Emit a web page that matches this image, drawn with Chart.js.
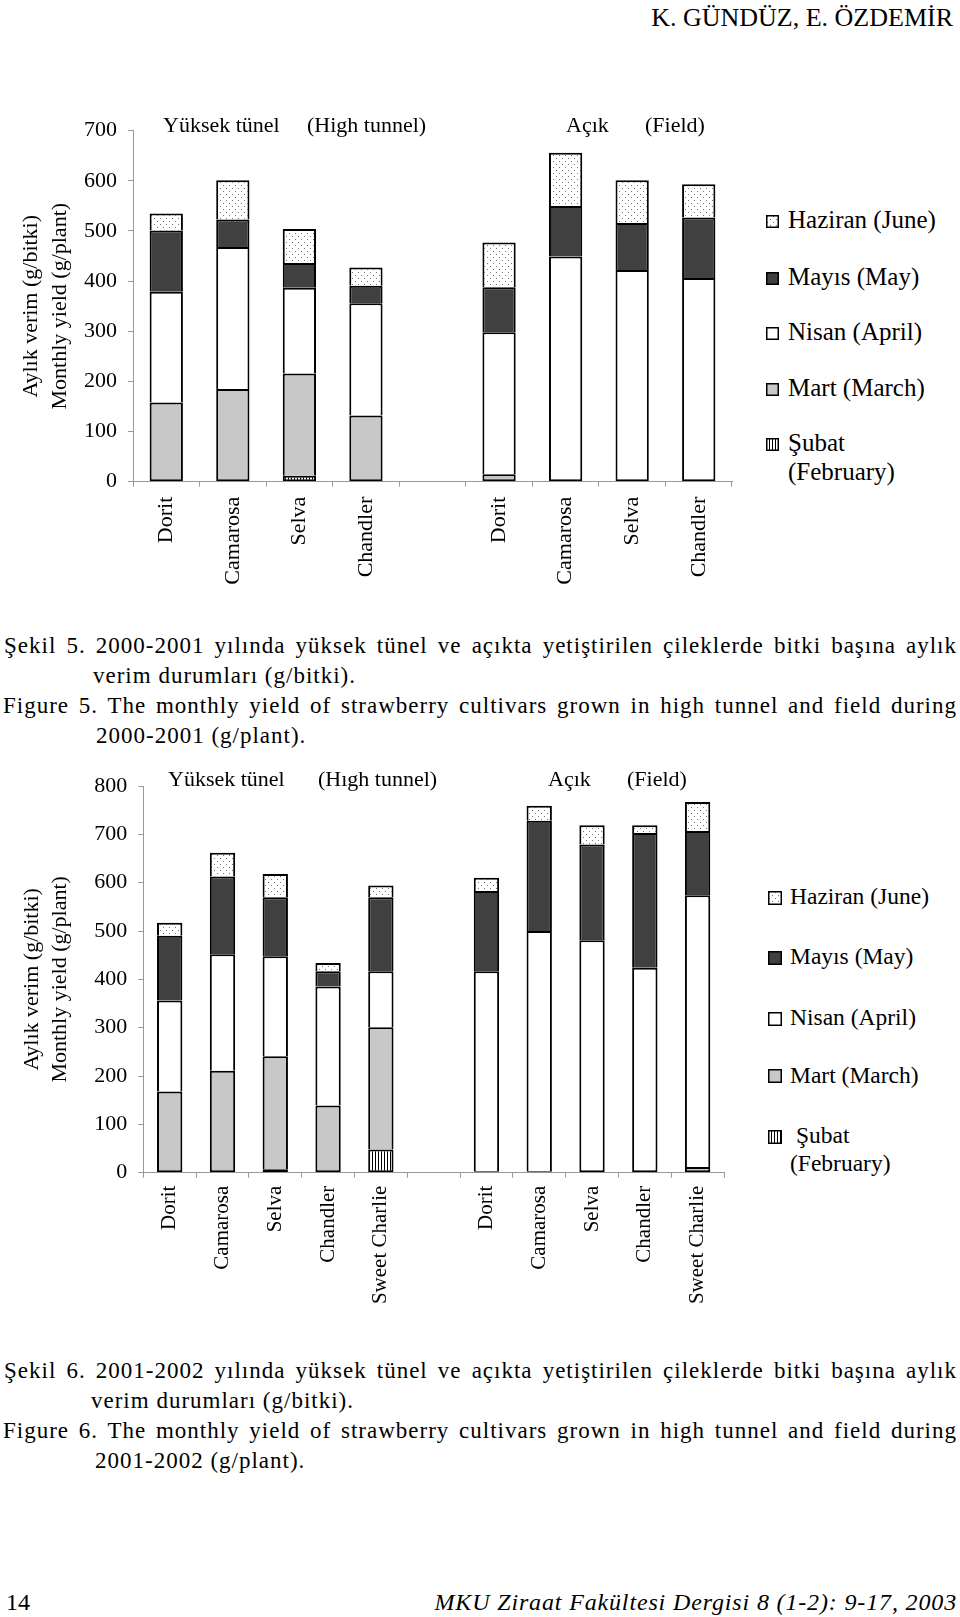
<!DOCTYPE html>
<html>
<head>
<meta charset="utf-8">
<script src="https://cdn.jsdelivr.net/npm/chart.js@4.4.1/dist/chart.umd.min.js"></script>
<style>
  body { margin: 0; background: #fff; }
  #page { position: relative; width: 960px; height: 1617px; font-family: 'Liberation Serif', 'Times New Roman', serif; color: #000; overflow: hidden; }
  .t { position: absolute; white-space: nowrap; }
  .g { font-size: 22px; line-height: 22px; }
  .cap { position: absolute; font-size: 23px; line-height: 30px; letter-spacing: 1px; }
  .cap div { white-space: nowrap; }
  .cap .j { text-align: justify; text-align-last: justify; }
  canvas { position: absolute; left: 0; }
  .sw { position: absolute; }
</style>
</head>
<body>
<div id="page">
  <div class="t" style="right:7px;top:5px;font-size:26px;line-height:26px;">K. GÜNDÜZ, E. ÖZDEMİR</div>

  <canvas id="chart1" width="760" height="500" style="top:100px"></canvas>
  <div class="t g" style="left:163px;top:113.6px">Yüksek tünel</div>
  <div class="t g" style="left:307px;top:113.6px">(High tunnel)</div>
  <div class="t g" style="left:566px;top:113.6px">Açık</div>
  <div class="t g" style="left:645px;top:113.6px">(Field)</div>
  <div id="legend1"></div>

  <div class="cap" style="left:0;top:630.5px;width:960px">
    <div class="j" style="margin-left:4px;width:953px">Şekil 5. 2000-2001 yılında yüksek tünel ve açıkta yetiştirilen çileklerde bitki başına aylık</div>
    <div style="margin-left:93px">verim durumları (g/bitki).</div>
    <div class="j" style="margin-left:3px;width:954px">Figure 5. The monthly yield of strawberry cultivars grown in high tunnel and field during</div>
    <div style="margin-left:96px">2000-2001 (g/plant).</div>
  </div>

  <canvas id="chart2" width="760" height="580" style="top:740px"></canvas>
  <div class="t g" style="left:168px;top:767.6px">Yüksek tünel</div>
  <div class="t g" style="left:318px;top:767.6px">(Hıgh tunnel)</div>
  <div class="t g" style="left:548px;top:767.6px">Açık</div>
  <div class="t g" style="left:627px;top:767.6px">(Field)</div>
  <div id="legend2"></div>

  <div class="cap" style="left:0;top:1355.5px;width:960px">
    <div class="j" style="margin-left:4px;width:953px">Şekil 6. 2001-2002 yılında yüksek tünel ve açıkta yetiştirilen çileklerde bitki başına aylık</div>
    <div style="margin-left:91px">verim durumları (g/bitki).</div>
    <div class="j" style="margin-left:3px;width:954px">Figure 6. The monthly yield of strawberry cultivars grown in high tunnel and field during</div>
    <div style="margin-left:95px">2001-2002 (g/plant).</div>
  </div>

  <div class="t" style="left:6px;top:1590px;font-size:24px;line-height:24px;">14</div>
  <div class="t" style="right:3px;top:1590px;font-size:24px;line-height:24px;font-style:italic;letter-spacing:0.85px;">MKU Ziraat Fakültesi Dergisi 8 (1-2): 9-17, 2003</div>
</div>

<script>
// Figure 5 (2000-2001): high tunnel cultivars, gap, field cultivars
const cultivars1 = ['Dorit', 'Camarosa', 'Selva', 'Chandler', '', 'Dorit', 'Camarosa', 'Selva', 'Chandler'];
const subat1   = [0, 0, 12, 0, null, 0, 0, 0, 0];
const mart1    = [158, 185, 204, 132, null, 15, 0, 0, 0];
const nisan1   = [221, 283, 171, 224, null, 283, 449, 422, 406];
const mayis1   = [122, 55, 49, 35, null, 90, 101, 94, 121];
const haziran1 = [34, 78, 68, 36, null, 89, 106, 85, 66];

// Figure 6 (2001-2002)
const cultivars2 = ['Dorit', 'Camarosa', 'Selva', 'Chandler', 'Sweet Charlie', '', 'Dorit', 'Camarosa', 'Selva', 'Chandler', 'Sweet Charlie'];
const subat2   = [0, 0, 7, 0, 48, null, 0, 0, 0, 0, 0];
const mart2    = [168, 211, 234, 139, 253, null, 3, 3, 0, 0, 12];
const nisan2   = [188, 241, 207, 246, 116, null, 414, 497, 481, 424, 562];
const mayis2   = [134, 161, 122, 32, 153, null, 166, 228, 198, 279, 133];
const haziran2 = [27, 49, 48, 17, 24, null, 27, 31, 40, 16, 60];

const monthNames = ['Haziran (June)', 'Mayıs (May)', 'Nisan (April)', 'Mart (March)', 'Şubat'];

const serif = "'Liberation Serif', 'Times New Roman', serif";
const axisGray = '#999';

function dots() {
  const c = document.createElement('canvas');
  c.width = 6; c.height = 6;
  const g = c.getContext('2d');
  g.fillStyle = '#fff'; g.fillRect(0, 0, 6, 6);
  g.fillStyle = '#777';
  g.fillRect(1, 1, 1, 1);
  g.fillRect(4, 4, 1, 1);
  return g.createPattern(c, 'repeat');
}

function stripes() {
  const c = document.createElement('canvas');
  c.width = 3; c.height = 3;
  const g = c.getContext('2d');
  g.fillStyle = '#fff'; g.fillRect(0, 0, 3, 3);
  g.fillStyle = '#000'; g.fillRect(0, 0, 1, 3);
  return g.createPattern(c, 'repeat');
}

const fills = {
  haziran: dots(),
  mayis: '#404040',
  nisan: '#ffffff',
  mart: '#c8c8c8',
  subat: stripes()
};

// the lowest non-empty segment of each bar keeps its bottom edge
function skipBottom(ctx) {
  const sets = ctx.chart.data.datasets;
  for (let k = 0; k < ctx.datasetIndex; k++) {
    if (sets[k].data[ctx.dataIndex] > 0) return 'start';
  }
  return false;
}

function makeDatasets(sub, mar, nis, may, haz) {
  return [
    { label: 'Şubat', data: sub, backgroundColor: fills.subat },
    { label: 'Mart', data: mar, backgroundColor: fills.mart },
    { label: 'Nisan', data: nis, backgroundColor: fills.nisan },
    { label: 'Mayıs', data: may, backgroundColor: fills.mayis },
    { label: 'Haziran', data: haz, backgroundColor: fills.haziran }
  ];
}

function makeChart(id, labels, datasets, o) {
  return new Chart(document.getElementById(id), {
    type: 'bar',
    data: { labels: labels, datasets: datasets },
    options: {
      responsive: false,
      animation: false,
      layout: { padding: { top: o.top, right: o.right, left: 0, bottom: 0 } },
      plugins: { legend: { display: false }, tooltip: { enabled: false } },
      datasets: {
        bar: {
          barPercentage: o.barPct, categoryPercentage: 1,
          borderColor: '#000', borderWidth: 2, borderSkipped: skipBottom
        }
      },
      scales: {
        x: {
          stacked: true,
          afterFit: s => { s.height = o.xHeight; },
          grid: { display: true, drawOnChartArea: false, drawTicks: true, tickLength: 5, color: axisGray, offset: true },
          border: { color: axisGray, width: 1 },
          ticks: {
            color: '#000', autoSkip: false, minRotation: 90, maxRotation: 90, padding: o.xPad,
            font: { family: serif, size: o.xFont }
          }
        },
        y: {
          stacked: true,
          min: 0,
          max: o.yMax,
          afterFit: s => { s.width = o.yWidth; },
          grid: { display: true, drawOnChartArea: false, drawTicks: true, tickLength: 5, color: axisGray },
          border: { color: axisGray, width: 1 },
          ticks: { stepSize: 100, padding: 11, color: '#000', font: { family: serif, size: 22 } },
          title: {
            display: true,
            text: ['Aylık verim (g/bitki)', 'Monthly yield (g/plant)'],
            color: '#000',
            padding: { top: o.titlePad, bottom: 0 },
            font: { family: serif, size: 22, lineHeight: o.titleLine }
          }
        }
      }
    }
  });
}

function swatch(fill, size) {
  const c = document.createElement('canvas');
  c.width = size; c.height = size;
  const g = c.getContext('2d');
  g.fillStyle = fill;
  g.fillRect(0, 0, size, size);
  g.strokeStyle = '#000';
  g.lineWidth = 1.5;
  g.strokeRect(0.75, 0.75, size - 1.5, size - 1.5);
  return c;
}

function makeLegend(id, l) {
  const box = document.getElementById(id);
  const order = [fills.haziran, fills.mayis, fills.nisan, fills.mart, fills.subat];
  order.forEach((f, i) => {
    const base = l.baselines[i];
    const sw = swatch(f, l.box);
    sw.className = 'sw';
    sw.style.left = l.boxX + 'px';
    sw.style.top = (base - l.box) + 'px';
    box.appendChild(sw);
    const t = document.createElement('div');
    t.className = 't';
    t.style.fontSize = l.font + 'px';
    t.style.lineHeight = l.font + 'px';
    t.style.left = (i === 4 ? l.textX4 : l.textX) + 'px';
    t.style.top = (base - 0.8375 * l.font) + 'px';
    t.textContent = monthNames[i];
    box.appendChild(t);
  });
  const feb = document.createElement('div');
  feb.className = 't';
  feb.style.fontSize = l.font + 'px';
  feb.style.lineHeight = l.font + 'px';
  feb.style.left = l.textX + 'px';
  feb.style.top = (l.baselines[5] - 0.8375 * l.font) + 'px';
  feb.textContent = '(February)';
  box.appendChild(feb);
}

makeChart('chart1', cultivars1, makeDatasets(subat1, mart1, nisan1, mayis1, haziran1), {
  top: 30.7, right: 28, xHeight: 118.3, yWidth: 133, yMax: 700, barPct: 0.5,
  xPad: 10, xFont: 22, titlePad: 16.5, titleLine: 1.32
});

makeChart('chart2', cultivars2, makeDatasets(subat2, mart2, nisan2, mayis2, haziran2), {
  top: 46, right: 36, xHeight: 147.3, yWidth: 143.3, yMax: 800, barPct: 0.48,
  xPad: 8, xFont: 21, titlePad: 18, titleLine: 1.27
});

makeLegend('legend1', {
  box: 13, boxX: 766, textX: 788, textX4: 788, font: 25,
  baselines: [228.3, 285, 340, 396, 450.7, 480]
});

makeLegend('legend2', {
  box: 14, boxX: 768, textX: 790, textX4: 796, font: 23.5,
  baselines: [905, 965, 1025.7, 1083.3, 1144, 1171.7]
});
</script>
</body>
</html>
